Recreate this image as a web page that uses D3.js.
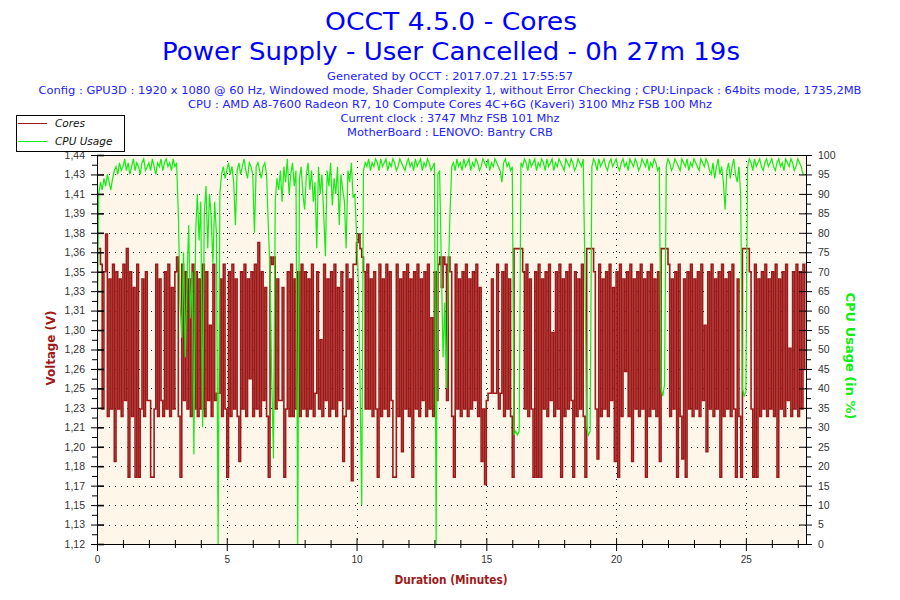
<!DOCTYPE html>
<html>
<head>
<meta charset="utf-8">
<script src="https://cdn.jsdelivr.net/npm/d3@7"></script>
<style>
  body { margin: 0; background: #fff; }
  svg { display: block; }
</style>
</head>
<body>
<script>
// ---- data ----
var titleLines = ["OCCT 4.5.0 - Cores", "Power Supply - User Cancelled - 0h 27m 19s"];
var infoLines = [
    "Generated by OCCT : 2017.07.21 17:55:57",
    "Config : GPU3D : 1920 x 1080 @ 60 Hz, Windowed mode, Shader Complexity 1, without Error Checking ; CPU:Linpack : 64bits mode, 1735,2MB",
    "CPU : AMD A8-7600 Radeon R7, 10 Compute Cores 4C+6G (Kaveri) 3100 Mhz FSB 100 Mhz",
    "Current clock : 3747 Mhz FSB 101 Mhz",
    "MotherBoard : LENOVO: Bantry CRB"
];
var seriesNames = ["Cores", "CPU Usage"];
var voltTickLabels = ["1,12", "1,13", "1,15", "1,17", "1,18", "1,20", "1,21", "1,23", "1,25", "1,26", "1,28",
    "1,30", "1,31", "1,33", "1,35", "1,36", "1,38", "1,39", "1,41", "1,43", "1,44"];
var cpuTicks = [0, 5, 10, 15, 20, 25, 30, 35, 40, 45, 50, 55, 60, 65, 70, 75, 80, 85, 90, 95, 100];
var minuteTicks = [0, 5, 10, 15, 20, 25];
var durationMinutes = 27 + 19 / 60;
var sampleSeconds = 4;

// core voltage (V), one reading per sample, rows of one minute
var coresVolts = [
    1.363, 1.363, 1.35, 1.231, 1.344, 1.375, 1.225, 1.338, 1.231, 1.35, 1.188, 1.344, 1.231, 1.338, 1.225,
    1.35, 1.238, 1.363, 1.175, 1.344, 1.225, 1.331, 1.175, 1.35, 1.175, 1.231, 1.338, 1.225, 1.344, 1.238,
    1.238, 1.175, 1.175, 1.231, 1.35, 1.225, 1.338, 1.238, 1.225, 1.344, 1.231, 1.35, 1.225, 1.331, 1.231,
    1.344, 1.356, 1.225, 1.175, 1.35, 1.238, 1.344, 1.231, 1.338, 1.225, 1.35, 1.231, 1.344, 1.225, 1.338,
    1.231, 1.35, 1.225, 1.344, 1.238, 1.3, 1.225, 1.35, 1.238, 1.244, 1.244, 1.338, 1.225, 1.35, 1.231,
    1.175, 1.344, 1.225, 1.35, 1.231, 1.338, 1.225, 1.188, 1.344, 1.231, 1.35, 1.225, 1.338, 1.256, 1.344,
    1.225, 1.35, 1.231, 1.368, 1.225, 1.344, 1.238, 1.331, 1.225, 1.175, 1.356, 1.35, 1.356, 1.231, 1.338,
    1.238, 1.238, 1.331, 1.175, 1.231, 1.344, 1.225, 1.35, 1.225, 1.338, 1.231, 1.344, 1.225, 1.35, 1.231,
    1.344, 1.225, 1.338, 1.231, 1.35, 1.225, 1.244, 1.344, 1.231, 1.288, 1.225, 1.35, 1.238, 1.338, 1.225,
    1.344, 1.231, 1.35, 1.225, 1.331, 1.238, 1.344, 1.188, 1.225, 1.35, 1.231, 1.338, 1.172, 1.35, 1.35,
    1.368, 1.375, 1.363, 1.356, 1.344, 1.231, 1.35, 1.231, 1.338, 1.225, 1.344, 1.231, 1.175, 1.35, 1.225,
    1.338, 1.231, 1.35, 1.225, 1.344, 1.238, 1.175, 1.175, 1.35, 1.225, 1.338, 1.196, 1.344, 1.231, 1.35,
    1.225, 1.338, 1.175, 1.344, 1.231, 1.35, 1.225, 1.338, 1.238, 1.344, 1.225, 1.35, 1.231, 1.306, 1.225,
    1.344, 1.238, 1.35, 1.356, 1.331, 1.356, 1.35, 1.238, 1.356, 1.344, 1.225, 1.175, 1.35, 1.231, 1.338,
    1.225, 1.344, 1.231, 1.35, 1.225, 1.338, 1.231, 1.344, 1.238, 1.35, 1.225, 1.331, 1.188, 1.231, 1.169,
    1.238, 1.244, 1.244, 1.338, 1.244, 1.244, 1.35, 1.231, 1.244, 1.344, 1.225, 1.35, 1.231, 1.338, 1.225,
    1.175, 1.363, 1.363, 1.363, 1.363, 1.363, 1.344, 1.231, 1.35, 1.225, 1.338, 1.231, 1.175, 1.344, 1.175,
    1.35, 1.175, 1.338, 1.231, 1.344, 1.225, 1.35, 1.238, 1.294, 1.225, 1.344, 1.231, 1.35, 1.175, 1.338,
    1.225, 1.344, 1.231, 1.35, 1.238, 1.175, 1.344, 1.225, 1.338, 1.231, 1.35, 1.225, 1.175, 1.363, 1.363,
    1.363, 1.363, 1.344, 1.231, 1.19, 1.35, 1.225, 1.338, 1.231, 1.344, 1.225, 1.35, 1.238, 1.331, 1.188,
    1.344, 1.175, 1.35, 1.225, 1.338, 1.262, 1.344, 1.225, 1.35, 1.188, 1.338, 1.231, 1.344, 1.225, 1.35,
    1.231, 1.338, 1.175, 1.344, 1.225, 1.35, 1.231, 1.338, 1.225, 1.344, 1.188, 1.363, 1.363, 1.363, 1.363,
    1.35, 1.225, 1.338, 1.231, 1.344, 1.175, 1.35, 1.225, 1.19, 1.338, 1.175, 1.344, 1.231, 1.35, 1.225,
    1.338, 1.231, 1.344, 1.225, 1.35, 1.238, 1.3, 1.196, 1.344, 1.231, 1.35, 1.225, 1.338, 1.231, 1.344,
    1.175, 1.35, 1.225, 1.338, 1.231, 1.344, 1.225, 1.35, 1.231, 1.175, 1.338, 1.225, 1.175, 1.363, 1.363,
    1.363, 1.363, 1.344, 1.231, 1.175, 1.35, 1.175, 1.338, 1.225, 1.344, 1.231, 1.35, 1.225, 1.338, 1.231,
    1.344, 1.225, 1.35, 1.175, 1.338, 1.231, 1.344, 1.225, 1.35, 1.238, 1.281, 1.225, 1.344, 1.231, 1.35,
    1.225, 1.344, 1.231, 1.35, 1.263
];

// CPU usage (%), same samples
var cpuUsage = [
    45, 90, 93, 91, 94, 92, 95, 93, 91, 94, 96, 97, 95, 98, 96,
    97, 99, 96, 98, 95, 97, 99, 96, 98, 97, 95, 98, 99, 96, 97,
    98, 96, 99, 97, 95, 98, 97, 99, 96, 98, 99, 97, 98, 96, 99,
    97, 98, 85, 62, 53, 75, 48, 68, 82, 58, 70, 23, 80, 90, 78,
    88, 30, 85, 92, 76, 90, 84, 72, 88, 80, 0, 90, 95, 97, 94,
    96, 98, 95, 97, 93, 82, 96, 98, 95, 97, 99, 96, 94, 98, 97,
    95, 80, 97, 98, 96, 94, 97, 98, 95, 82, 70, 42, 22, 88, 94,
    91, 96, 88, 97, 93, 99, 90, 95, 98, 92, 96, 0, 94, 97, 90,
    86, 95, 98, 91, 96, 88, 93, 76, 97, 90, 95, 85, 74, 96, 92,
    98, 87, 94, 90, 97, 82, 95, 91, 88, 76, 96, 93, 98, 89, 90,
    80, 68, 42, 10, 96, 98, 97, 99, 96, 98, 97, 99, 98, 96, 99,
    97, 98, 99, 96, 98, 97, 99, 98, 96, 97, 99, 98, 97, 96, 98,
    99, 97, 98, 96, 99, 97, 98, 99, 96, 98, 97, 99, 98, 96, 97,
    98, 0, 95, 96, 72, 48, 62, 40, 68, 85, 97, 98, 96, 99, 97,
    98, 96, 99, 97, 98, 99, 96, 98, 97, 99, 98, 96, 97, 99, 98,
    97, 99, 96, 98, 97, 99, 98, 97, 96, 93, 98, 99, 97, 98, 96,
    97, 28, 29, 28, 29, 98, 97, 99, 98, 96, 99, 97, 98, 99, 96,
    98, 97, 99, 98, 96, 99, 97, 98, 99, 96, 98, 97, 99, 98, 97,
    96, 99, 98, 97, 99, 98, 96, 97, 99, 98, 97, 99, 70, 30, 28,
    29, 97, 99, 98, 96, 99, 97, 98, 99, 97, 96, 98, 99, 97, 98,
    99, 97, 96, 98, 99, 97, 98, 96, 99, 98, 97, 99, 98, 96, 97,
    99, 98, 97, 99, 96, 98, 97, 99, 98, 96, 97, 40, 38, 41, 97,
    99, 98, 96, 97, 99, 98, 97, 96, 99, 98, 97, 99, 96, 98, 97,
    99, 98, 97, 96, 99, 98, 97, 99, 98, 96, 95, 98, 94, 97, 99,
    95, 97, 93, 86, 96, 98, 94, 97, 99, 95, 93, 97, 90, 40, 38,
    39, 97, 99, 98, 96, 99, 97, 98, 99, 97, 96, 98, 99, 97, 98,
    99, 97, 96, 98, 99, 97, 98, 96, 99, 98, 97, 99, 98, 96, 97,
    99, 98, 97, 95, 95
];

// ---- layout ----
var margin = { top: 155, right: 94, bottom: 56, left: 97 };
var width = 900 - margin.left - margin.right;
var height = 600 - margin.top - margin.bottom;

var coresColor = "#9e1a1a";
var cpuColor = "#11ee11";
var titleWidths = [252, 578];
var infoWidths = [246, 823, 524, 219, 206];

var svg = d3.select("body").append("svg")
    .attr("width", 900)
    .attr("height", 600);

// titles
svg.selectAll(".title")
    .data(titleLines)
    .enter()
    .append("text")
    .attr("class", "title")
    .attr("x", 451)
    .attr("y", function(d, i) { return 30 + i * 30; })
    .attr("text-anchor", "middle")
    .attr("textLength", function(d, i) { return titleWidths[i]; })
    .attr("lengthAdjust", "spacingAndGlyphs")
    .style("font-family", "DejaVu Sans, sans-serif")
    .style("font-size", "25px")
    .style("fill", "#0000ff")
    .text(function(d) { return d; });

svg.selectAll(".info")
    .data(infoLines)
    .enter()
    .append("text")
    .attr("class", "info")
    .attr("x", 450)
    .attr("y", function(d, i) { return 80 + i * 14; })
    .attr("text-anchor", "middle")
    .attr("textLength", function(d, i) { return infoWidths[i]; })
    .attr("lengthAdjust", "spacingAndGlyphs")
    .style("font-family", "DejaVu Sans, sans-serif")
    .style("font-size", "10.5px")
    .style("fill", "#2222ff")
    .text(function(d) { return d; });

var container = svg.append("g")
    .attr("transform", "translate(" + margin.left + "," + margin.top + ")");

// scales
var x = d3.scaleLinear().domain([0, durationMinutes]).range([0, width]);
var yV = d3.scaleLinear().domain([1.12, 1.44]).range([height, 0]);
var yC = d3.scaleLinear().domain([0, 100]).range([height, 0]);

var voltTicks = voltTickLabels.map(function(d, i) {
    return 1.12 + i * (0.32 / (voltTickLabels.length - 1));
});
var voltMinor = voltTicks.slice(1).map(function(d, i) { return (d + voltTicks[i]) / 2; });
var cpuMinor = cpuTicks.slice(1).map(function(d) { return d - 2.5; });
var minuteMinor = d3.range(1, 28).filter(function(d) { return d % 5 !== 0; });

// plot background
container.append("rect")
    .attr("width", width)
    .attr("height", height)
    .attr("fill", "#fdf6e9");

// dotted grid
container.selectAll(".hgrid")
    .data(cpuTicks.slice(1, -1))
    .enter()
    .append("line")
    .attr("x1", 0).attr("x2", width)
    .attr("y1", function(d) { return Math.round(yC(d)) + 0.5; })
    .attr("y2", function(d) { return Math.round(yC(d)) + 0.5; })
    .attr("stroke", "#000")
    .attr("stroke-dasharray", "1,5");

container.selectAll(".vgrid")
    .data(minuteTicks.slice(1))
    .enter()
    .append("line")
    .attr("y1", 0).attr("y2", height)
    .attr("x1", function(d) { return Math.round(x(d)) + 0.5; })
    .attr("x2", function(d) { return Math.round(x(d)) + 0.5; })
    .attr("stroke", "#000")
    .attr("stroke-dasharray", "1,5");

// series
container.append("clipPath")
    .attr("id", "plot-clip")
    .append("rect")
    .attr("width", width)
    .attr("height", height);

var minuteOf = function(i) { return i * sampleSeconds / 60; };

var coresLine = d3.line()
    .x(function(d, i) { return x(minuteOf(i)); })
    .y(function(d) { return yV(d); })
    .curve(d3.curveStepAfter);

var cpuLine = d3.line()
    .x(function(d, i) { return x(minuteOf(i)); })
    .y(function(d) { return yC(d); });

container.append("path")
    .datum(coresVolts)
    .attr("clip-path", "url(#plot-clip)")
    .attr("d", coresLine)
    .attr("fill", "none")
    .attr("stroke", coresColor)
    .attr("stroke-width", 1.6);

container.append("path")
    .datum(cpuUsage)
    .attr("clip-path", "url(#plot-clip)")
    .attr("d", cpuLine)
    .attr("fill", "none")
    .attr("stroke", cpuColor)
    .attr("stroke-width", 1.2);

// axes
function styleAxis(sel) {
    sel.selectAll("line").attr("stroke", "#000");
    sel.selectAll("path").attr("stroke", "#000");
    sel.selectAll("text")
        .style("font-family", "Liberation Sans, Arial, sans-serif")
        .style("font-size", "10.5px")
        .style("fill", "#333");
}

// left
container.append("g")
    .call(d3.axisLeft(yV).tickValues(voltTicks).tickSize(6).tickSizeOuter(0).tickPadding(6)
        .tickFormat(function(d, i) { return voltTickLabels[i]; }))
    .call(styleAxis);
container.append("g")
    .call(d3.axisLeft(yV).tickValues(voltTicks).tickSize(-7).tickSizeOuter(0).tickFormat(""))
    .call(styleAxis)
    .selectAll(".tick line").attr("stroke-width", 1.6);
container.append("g")
    .call(d3.axisLeft(yV).tickValues(voltMinor).tickSize(5).tickSizeOuter(0).tickFormat(""))
    .call(styleAxis);

// right
var right = container.append("g").attr("transform", "translate(" + width + ",0)");
right.append("g")
    .call(d3.axisRight(yC).tickValues(cpuTicks).tickSize(6).tickSizeOuter(0).tickPadding(6))
    .call(styleAxis);
right.append("g")
    .call(d3.axisRight(yC).tickValues(cpuTicks).tickSize(-7).tickSizeOuter(0).tickFormat(""))
    .call(styleAxis);
right.append("g")
    .call(d3.axisRight(yC).tickValues(cpuMinor).tickSize(5).tickSizeOuter(0).tickFormat(""))
    .call(styleAxis);

// bottom
var bottom = container.append("g").attr("transform", "translate(0," + height + ")");
bottom.append("g")
    .call(d3.axisBottom(x).tickValues(minuteTicks).tickSize(7).tickSizeOuter(0).tickPadding(5))
    .call(styleAxis)
    .selectAll("text").style("font-size", "10px");
bottom.append("g")
    .call(d3.axisBottom(x).tickValues(minuteTicks).tickSize(-6).tickSizeOuter(0).tickFormat(""))
    .call(styleAxis);
bottom.append("g")
    .call(d3.axisBottom(x).tickValues(minuteMinor).tickSize(4).tickSizeOuter(0).tickFormat(""))
    .call(styleAxis);
bottom.append("g")
    .call(d3.axisBottom(x).tickValues(minuteMinor).tickSize(-4).tickSizeOuter(0).tickFormat(""))
    .call(styleAxis);

// top border
container.append("line")
    .attr("x1", 0).attr("x2", width)
    .attr("y1", 0.5).attr("y2", 0.5)
    .attr("stroke", "#000");

// axis titles
svg.append("text")
    .attr("transform", "translate(55,348) rotate(-90)")
    .attr("text-anchor", "middle")
    .attr("textLength", 75)
    .attr("lengthAdjust", "spacingAndGlyphs")
    .style("font-family", "DejaVu Sans, sans-serif")
    .style("font-size", "12px")
    .style("font-weight", "bold")
    .style("fill", coresColor)
    .text("Voltage (V)");

svg.append("text")
    .attr("transform", "translate(846,356) rotate(90)")
    .attr("text-anchor", "middle")
    .attr("textLength", 127)
    .attr("lengthAdjust", "spacingAndGlyphs")
    .style("font-family", "DejaVu Sans, sans-serif")
    .style("font-size", "12px")
    .style("font-weight", "bold")
    .style("fill", cpuColor)
    .text("CPU Usage (in %)");

svg.append("text")
    .attr("x", 451)
    .attr("y", 584)
    .attr("text-anchor", "middle")
    .attr("textLength", 113)
    .attr("lengthAdjust", "spacingAndGlyphs")
    .style("font-family", "DejaVu Sans, sans-serif")
    .style("font-size", "12px")
    .style("font-weight", "bold")
    .style("fill", coresColor)
    .text("Duration (Minutes)");

// legend
var legend = svg.append("g").attr("transform", "translate(16,115)");
legend.append("rect")
    .attr("x", 0.5).attr("y", 0.5)
    .attr("width", 108).attr("height", 36)
    .attr("fill", "#fff")
    .attr("stroke", "#000");

var legendColors = [coresColor, cpuColor];
legend.selectAll(".legend-line")
    .data(seriesNames)
    .enter()
    .append("line")
    .attr("x1", 2).attr("x2", 31)
    .attr("y1", function(d, i) { return 8.5 + i * 18; })
    .attr("y2", function(d, i) { return 8.5 + i * 18; })
    .attr("stroke", function(d, i) { return legendColors[i]; });

legend.selectAll(".legend-text")
    .data(seriesNames)
    .enter()
    .append("text")
    .attr("x", 39)
    .attr("y", function(d, i) { return 12 + i * 18; })
    .style("font-family", "DejaVu Sans, sans-serif")
    .style("font-size", "10.5px")
    .style("font-style", "italic")
    .style("fill", "#111")
    .text(function(d) { return d; });
</script>
</body>
</html>
